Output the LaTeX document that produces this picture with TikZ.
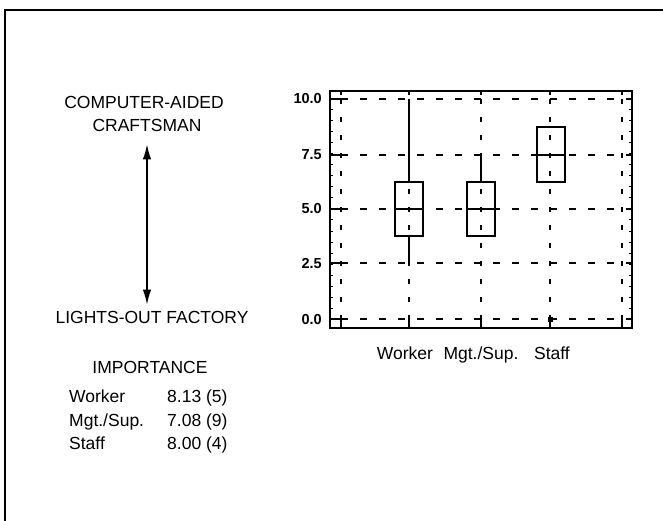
\documentclass[tikz,border=0pt]{standalone}
\usepackage{fontspec}
\setmainfont{Liberation Sans}
\usetikzlibrary{arrows.meta,positioning}

\begin{document}
\begin{tikzpicture}[x=1pt,y=-1pt,
   lbl/.style={font=\fontsize{17.5}{20}\selectfont,inner sep=0pt,anchor=base},
   ticklbl/.style={font=\bfseries\fontsize{14.5}{16}\selectfont,inner sep=0pt,anchor=base east},
   gridh/.style={line width=1.4pt,dash pattern=on 7pt off 12pt},
   gridv/.style={line width=1.4pt,dash pattern=on 5pt off 13pt},
   quartile/.style={draw,line width=1.3pt}]
   \useasboundingbox (0,0) rectangle (663,521);
   \draw[line width=2pt] (5,521) -- (5,10) -- (663,10);

   % scale on the left
   \node[lbl] (craft1) at (144,109) {COMPUTER-AIDED};
   \node[lbl] (craft2) at (147,132) {CRAFTSMAN};
   \node[lbl] (lights) at (152,323) {LIGHTS-OUT FACTORY};
   \coordinate[below=12pt of craft2] (up);
   \coordinate (down) at (up |- lights.north);
   \draw[line width=1.4pt,{Latex[length=15pt,width=8.5pt]}-{Latex[length=15pt,width=8.5pt]},
         shorten >=6pt] (up) -- (down);

   % importance table
   \node[lbl] (imp) at (150,373) {IMPORTANCE};
   \node[lbl,anchor=base west] (worker) at (69,402) {Worker};
   \node[lbl,anchor=base west] (mgt) at (69,426) {Mgt./Sup.};
   \node[lbl,anchor=base west] (staff) at (69,449) {Staff};
   \node[lbl,anchor=base west] (workerval) at (167,402) {8.13 (5)};
   \node[lbl,anchor=base west] (mgtval) at (167,426) {7.08 (9)};
   \node[lbl,anchor=base west] (staffval) at (167,449) {8.00 (4)};

   % box plot
   \draw[line width=1.6pt] (330,91) rectangle (632,328);
   \foreach \y/\v in {99/10.0,155/7.5,209/5.0,263/2.5,319/0.0} {
      \draw[gridh] (341,\y) -- (622,\y);
      \draw[line width=1.3pt] (330,\y) -- (341,\y) (626,\y) -- (632,\y);
      \node[ticklbl] (tick\v) at (322,\y+5) {\v};
   }
   \foreach \x in {341,409,481,550,622} {
      \draw[gridv] (\x,99) -- (\x,319);
      \draw[line width=1.3pt] (\x,319) -- (\x,328) (\x,91) -- (\x,95);
   }
   \foreach \y in {110,121,...,308}
      \draw[line width=1pt] (330,\y) -- (333,\y) (629,\y) -- (632,\y);

   \draw[quartile] (395,182) rectangle (423,236) (395,209) -- (423,209);
   \draw[line width=1.3pt] (409,182) -- (409,99) (409,236) -- (409,263);
   \draw[quartile] (467,182) rectangle (495,236) (467,209) -- (495,209);
   \draw[line width=1.3pt] (481,182) -- (481,153);
   \draw[quartile] (537,127) rectangle (565,182) (537,155) -- (565,155);
   \fill (547.5,316.5) rectangle (552.5,321.5);

   \node[lbl] (catworker) at (405,359) {Worker};
   \node[lbl] (catmgt) at (481,359) {Mgt./Sup.};
   \node[lbl] (catstaff) at (552,359) {Staff};
\end{tikzpicture}
\end{document}
